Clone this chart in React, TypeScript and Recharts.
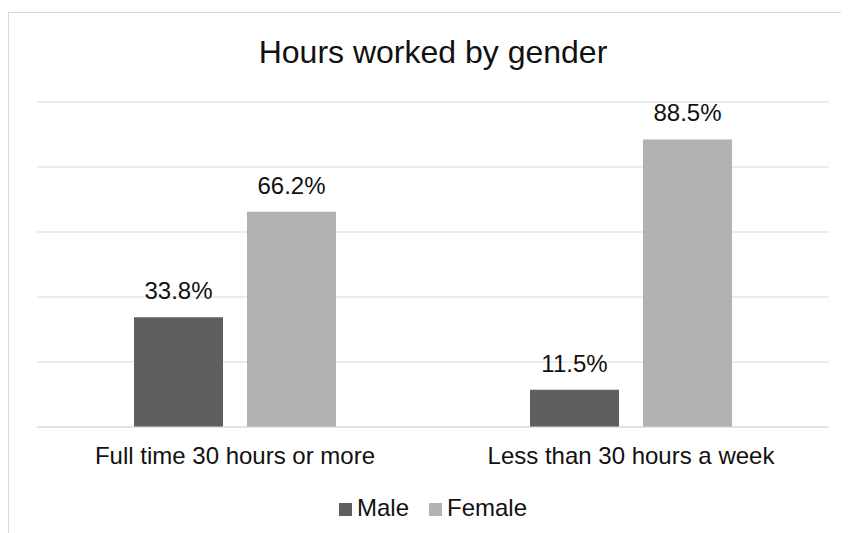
import React from "react";
import { BarChart, Bar, XAxis, YAxis, CartesianGrid, LabelList, Legend } from "recharts";

const categories = ["Full time 30 hours or more", "Less than 30 hours a week"];
const maleValues = [33.8, 11.5];
const femaleValues = [66.2, 88.5];
const yTicks = [0, 20, 40, 60, 80, 100];
const seriesNames = ["Male", "Female"];
const seriesColors = ["#5f5f5f", "#b2b2b2"];

const data = categories.map((c, i) => ({ name: c, male: maleValues[i], female: femaleValues[i] }));

const FONT = '"Liberation Sans", Arial, sans-serif';

const LegendContent = () => (
  <div style={{ display: "flex", justifyContent: "center", alignItems: "center", fontFamily: FONT, fontSize: 24, color: "#111", lineHeight: "28px" }}>
    {seriesNames.map((n, i) => (
      <div key={n} style={{ display: "flex", alignItems: "center", marginLeft: i === 0 ? 0 : 20 }}>
        <span style={{ display: "inline-block", width: 13, height: 13, background: seriesColors[i], marginRight: 5, marginTop: 3 }} />
        <span>{n}</span>
      </div>
    ))}
  </div>
);

export default function App() {
  return (
    <div style={{ position: "relative", width: 841, height: 525, overflow: "hidden" }}>
      <style>{"html,body{overflow:hidden}"}</style>
      <div style={{ position: "absolute", left: 0, top: 4, width: 900, height: 600, borderTop: "1px solid #d9d9d9", borderLeft: "1px solid #d9d9d9", boxSizing: "border-box" }} />
      <div style={{ position: "absolute", left: 0, top: 28, width: 850, textAlign: "center", fontFamily: FONT, fontSize: 32, lineHeight: "32px", color: "#111" }}>
        Hours worked by gender
      </div>
      <div style={{ position: "absolute", left: 0, top: 0 }}>
        <BarChart width={841} height={517} data={data} margin={{ top: 94, right: 20, bottom: 38, left: 29 }} barGap={24} barSize={89}>
          <CartesianGrid vertical={false} stroke="#d9d9d9" />
          <YAxis hide domain={[0, 100]} ticks={yTicks} />
          <XAxis dataKey="name" height={60} axisLine={{ stroke: "#d9d9d9" }} tickLine={false} tickSize={6} tickMargin={14} tick={{ fontSize: 24, fontFamily: FONT, fill: "#111" }} />
          <Legend layout="horizontal" verticalAlign="middle" align="center" content={<LegendContent />} wrapperStyle={{ top: 486, left: 0, width: 850 }} />
          <Bar dataKey="male" name="Male" fill={seriesColors[0]} isAnimationActive={false}>
            <LabelList dataKey="male" position="top" offset={18} formatter={(v: number) => `${v}%`} style={{ fontSize: 24, fontFamily: FONT, fill: "#111" }} />
          </Bar>
          <Bar dataKey="female" name="Female" fill={seriesColors[1]} isAnimationActive={false}>
            <LabelList dataKey="female" position="top" offset={18} formatter={(v: number) => `${v}%`} style={{ fontSize: 24, fontFamily: FONT, fill: "#111" }} />
          </Bar>
        </BarChart>
      </div>
    </div>
  );
}
